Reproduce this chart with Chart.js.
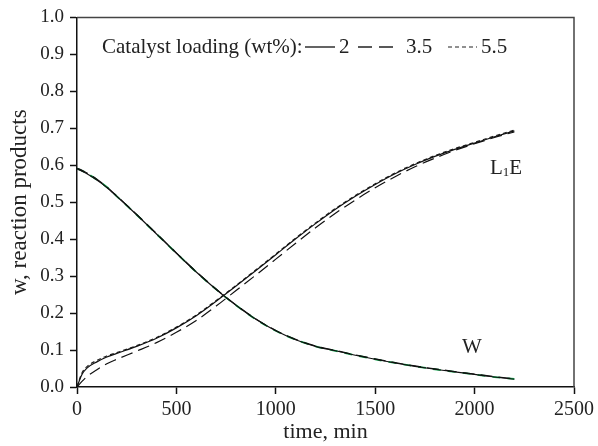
<!DOCTYPE html>
<html lang="en">
<head>
  <meta charset="UTF-8">
  <title>Catalyst loading</title>
  <script src="https://cdn.jsdelivr.net/npm/chart.js@4.4.1/dist/chart.umd.min.js"></script>
  <style>
    body { margin: 0; background: #fff; }
    canvas { display: block; }
  </style>
</head>
<body>
  <canvas id="chart" width="598" height="446"></canvas>

  <script>
    // time grid (min)
    var time = [0, 25, 50, 100, 150, 200, 300, 400, 500, 600, 700, 800, 900, 1000,
      1100, 1200, 1300, 1400, 1500, 1600, 1700, 1800, 1900, 2000, 2100, 2200];

    // L1E, catalyst loading 2 / 3.5 / 5.5 wt%
    var l1e_2 = [0, 0.034, 0.051, 0.068, 0.081, 0.091, 0.110, 0.132, 0.160, 0.193, 0.232, 0.273, 0.315, 0.358,
      0.401, 0.442, 0.481, 0.516, 0.548, 0.577, 0.602, 0.624, 0.643, 0.660, 0.677, 0.693];
    var l1e_35 = [0, 0.015, 0.028, 0.047, 0.063, 0.075, 0.097, 0.120, 0.148, 0.180, 0.219, 0.261, 0.303, 0.346,
      0.389, 0.431, 0.470, 0.506, 0.539, 0.569, 0.596, 0.619, 0.640, 0.658, 0.675, 0.690];
    var l1e_55 = [0, 0.038, 0.055, 0.072, 0.084, 0.093, 0.112, 0.134, 0.162, 0.195, 0.234, 0.275, 0.317, 0.360,
      0.403, 0.444, 0.483, 0.518, 0.550, 0.579, 0.604, 0.626, 0.645, 0.662, 0.679, 0.695];

    // W
    var w_2 = [0.590, 0.584, 0.577, 0.560, 0.540, 0.516, 0.466, 0.414, 0.362, 0.311, 0.264, 0.221, 0.183, 0.152,
      0.128, 0.110, 0.098, 0.086, 0.075, 0.065, 0.056, 0.048, 0.041, 0.034, 0.027, 0.021];
    var w_35 = [0.592, 0.586, 0.579, 0.562, 0.541, 0.517, 0.467, 0.415, 0.363, 0.312, 0.265, 0.222, 0.184, 0.153,
      0.129, 0.111, 0.099, 0.087, 0.076, 0.066, 0.057, 0.049, 0.042, 0.035, 0.028, 0.022];
    var w_55 = [0.591, 0.585, 0.578, 0.561, 0.541, 0.516, 0.466, 0.414, 0.362, 0.311, 0.264, 0.221, 0.183, 0.152,
      0.128, 0.110, 0.098, 0.086, 0.075, 0.065, 0.056, 0.048, 0.041, 0.034, 0.027, 0.022];

    var xTicks = [0, 500, 1000, 1500, 2000, 2500];
    var yTicks = [0, 0.1, 0.2, 0.3, 0.4, 0.5, 0.6, 0.7, 0.8, 0.9, 1.0];

    var serif = "'Liberation Serif', 'Times New Roman', serif";

    function pts(ys) {
      return time.map(function (t, i) { return { x: t, y: ys[i] }; });
    }

    function line(label, ys, color, dash, width) {
      return {
        label: label,
        data: pts(ys),
        borderColor: color,
        borderWidth: width || 1.2,
        borderDash: dash,
        pointRadius: 0,
        fill: false,
        cubicInterpolationMode: 'monotone'
      };
    }

    // frame on top/right, legend text and curve labels
    var decor = {
      id: 'decor',
      afterDraw: function (chart) {
        var c = chart.ctx, a = chart.chartArea;
        c.save();
        c.strokeStyle = '#444';
        c.lineWidth = 1.5;
        c.beginPath();
        c.moveTo(a.left, a.top);
        c.lineTo(a.right, a.top);
        c.lineTo(a.right, a.bottom);
        c.stroke();

        c.fillStyle = '#222';
        c.strokeStyle = '#222';
        c.lineWidth = 1.4;
        c.font = '21px ' + serif;
        c.textBaseline = 'middle';
        var y = 47;
        c.fillText('Catalyst loading (wt%):', 102, y);
        c.beginPath(); c.moveTo(305, y); c.lineTo(335, y); c.stroke();
        c.fillText('2', 339, y);
        c.setLineDash([14, 7]);
        c.beginPath(); c.moveTo(358, y); c.lineTo(393, y); c.stroke();
        c.fillText('3.5', 406, y);
        c.setLineDash([4, 3]);
        c.lineWidth = 1.1;
        c.beginPath(); c.moveTo(448, y); c.lineTo(477, y); c.stroke();
        c.setLineDash([]);
        c.fillText('5.5', 481, y);

        c.fillText('L', 490, 168);
        var lw = c.measureText('L').width;
        c.font = '13px ' + serif;
        c.fillText('1', 490 + lw, 173);
        var ow = c.measureText('1').width;
        c.font = '21px ' + serif;
        c.fillText('E', 490 + lw + ow, 168);

        c.fillText('W', 462, 347);
        c.restore();
      }
    };

    new Chart(document.getElementById('chart'), {
      type: 'line',
      data: {
        datasets: [
          line('L1E 2', l1e_2, '#111', []),
          line('L1E 3.5', l1e_35, '#111', [12, 6]),
          line('L1E 5.5', l1e_55, '#222', [4, 3]),
          line('W 2', w_2, '#111', []),
          line('W 3.5', w_35, '#111', [12, 6]),
          line('W 5.5', w_55, '#0fa84e', [8, 7], 1.8)
        ]
      },
      options: {
        responsive: false,
        animation: false,
        layout: { padding: { top: 17, right: 21, left: 0, bottom: 0 } },
        plugins: { legend: { display: false }, tooltip: { enabled: false } },
        scales: {
          x: {
            type: 'linear',
            min: 0,
            max: 2500,
            afterFit: function (s) { s.height = 59; },
            afterBuildTicks: function (s) { s.ticks = xTicks.map(function (v) { return { value: v }; }); },
            ticks: {
              color: '#222', font: { family: serif, size: 20 }, padding: 4, maxRotation: 0,
              callback: function (v) { return String(v); }
            },
            grid: { drawOnChartArea: false, drawTicks: true, tickLength: 7, tickColor: '#111', tickWidth: 1.5 },
            border: { color: '#111', width: 1.5 },
            title: { display: true, text: 'time, min', color: '#222', font: { family: serif, size: 22 }, padding: { top: 0, bottom: 1 } }
          },
          y: {
            min: 0,
            max: 1,
            afterFit: function (s) { s.width = 77; },
            afterBuildTicks: function (s) { s.ticks = yTicks.map(function (v) { return { value: v }; }); },
            ticks: {
              color: '#222', font: { family: serif, size: 19 }, padding: 6,
              callback: function (v) { return v.toFixed(1); }
            },
            grid: { drawOnChartArea: false, drawTicks: true, tickLength: 7, tickColor: '#111', tickWidth: 1.5 },
            border: { color: '#111', width: 1.5 },
            title: { display: true, text: 'w, reaction products', color: '#222', font: { family: serif, size: 23 }, padding: { top: 6, bottom: 2 } }
          }
        }
      },
      plugins: [decor]
    });
  </script>
</body>
</html>
